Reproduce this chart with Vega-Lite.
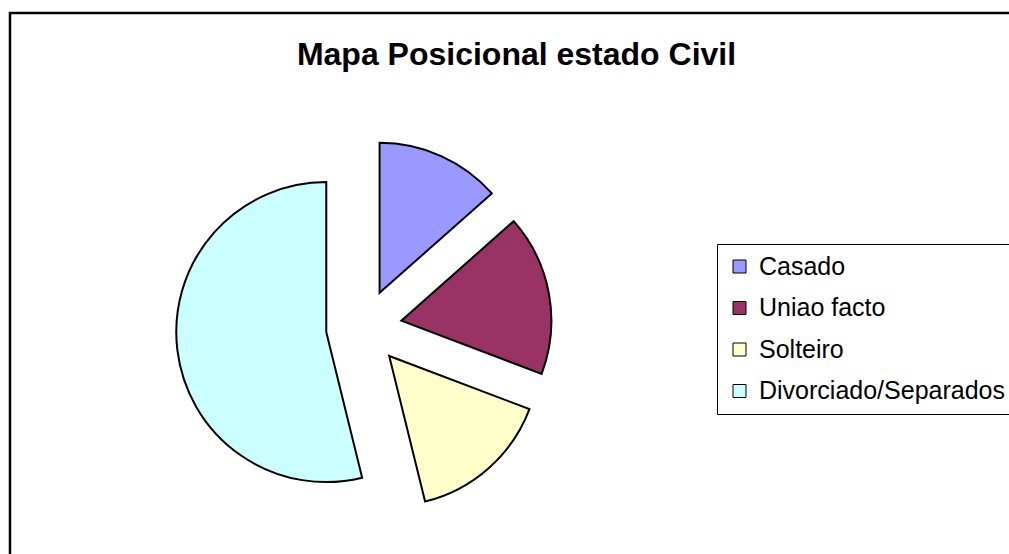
{
  "$schema": "https://vega.github.io/schema/vega-lite/v6.json",
  "width": 1009,
  "height": 554,
  "autosize": {"type": "fit", "contains": "padding"},
  "padding": {"left": 10, "top": 13, "right": -4, "bottom": -4},
  "background": "white",
  "title": {
    "text": "Mapa Posicional estado Civil",
    "font": "Liberation Sans",
    "fontSize": 32,
    "fontWeight": "bold",
    "color": "#000000",
    "anchor": "middle",
    "frame": "group",
    "baseline": "alphabetic",
    "offset": -84,
    "dx": 5
  },
  "data": {
    "values": [
      {"estado": "Casado", "n": 7},
      {"estado": "Uniao facto", "n": 9},
      {"estado": "Solteiro", "n": 8},
      {"estado": "Divorciado/Separados", "n": 28}
    ]
  },
  "transform": [
    {"window": [{"op": "sum", "field": "n", "as": "end"}], "frame": [null, 0]},
    {"joinaggregate": [{"op": "sum", "field": "n", "as": "total"}]},
    {"calculate": "datum.end - datum.n", "as": "start"},
    {"calculate": "2*PI*(datum.end - datum.n/2)/datum.total", "as": "mid"},
    {"calculate": "38*sin(datum.mid)", "as": "ex"},
    {"calculate": "-38*cos(datum.mid)", "as": "ey"}
  ],
  "mark": {"type": "arc", "outerRadius": 150, "stroke": "#000000", "strokeWidth": 2, "strokeJoin": "miter"},
  "encoding": {
    "theta": {"field": "start", "type": "quantitative", "stack": null, "scale": {"domain": [0, 52]}},
    "theta2": {"field": "end"},
    "x": {"field": "ex", "type": "quantitative", "axis": null, "scale": {"domain": [-354, 646], "range": [0, 1000], "zero": false, "nice": false}},
    "y": {"field": "ey", "type": "quantitative", "axis": null, "scale": {"domain": [-314.5, 225.5], "range": [0, 540], "zero": false, "nice": false}},
    "color": {
      "field": "estado",
      "type": "nominal",
      "sort": null,
      "scale": {
        "domain": ["Casado", "Uniao facto", "Solteiro", "Divorciado/Separados"],
        "range": ["#9999FF", "#993366", "#FFFFCC", "#CCFFFF"]
      },
      "legend": {
        "title": null,
        "orient": "none",
        "legendX": 707,
        "legendY": 231,
        "direction": "vertical",
        "fillColor": "#ffffff",
        "strokeColor": "#000000",
        "padding": 10,
        "labelFont": "Liberation Sans",
        "labelFontSize": 25,
        "labelColor": "#000000",
        "labelLimit": 400,
        "labelOffset": 7,
        "symbolType": "square",
        "symbolSize": 169,
        "symbolStrokeColor": "#000000",
        "symbolStrokeWidth": 1,
        "symbolOpacity": 1,
        "rowPadding": 15.5
      }
    }
  },
  "config": {"view": {"stroke": "#000000", "strokeWidth": 2.5}}
}
